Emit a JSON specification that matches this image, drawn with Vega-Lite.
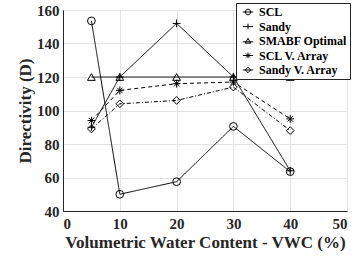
{
  "$schema": "https://vega.github.io/schema/vega-lite/v6.json",
  "autosize": "none",
  "padding": {"left": 63, "top": 10, "right": 10, "bottom": 47},
  "width": 284,
  "height": 201,
  "background": "white",
  "config": {
    "font": "Times New Roman",
    "view": {"stroke": "#262626", "strokeWidth": 1},
    "axis": {
      "labelFont": "Times New Roman", "labelFontWeight": "bold", "labelFontSize": 15, "labelColor": "#262626",
      "titleFont": "Times New Roman", "titleFontWeight": "bold", "titleFontSize": 17, "titleColor": "#262626",
      "domainColor": "#262626", "tickColor": "#262626", "tickSize": 0,
      "gridColor": "#e3e3e3", "gridWidth": 1
    }
  },
  "data": {"values": [
    {"vwc": 5, "d": 153.5, "series": "SCL"},
    {"vwc": 10, "d": 50, "series": "SCL"},
    {"vwc": 20, "d": 57.5, "series": "SCL"},
    {"vwc": 30, "d": 90.5, "series": "SCL"},
    {"vwc": 40, "d": 63.5, "series": "SCL"},
    {"vwc": 5, "d": 90, "series": "Sandy"},
    {"vwc": 10, "d": 120, "series": "Sandy"},
    {"vwc": 20, "d": 152, "series": "Sandy"},
    {"vwc": 30, "d": 120, "series": "Sandy"},
    {"vwc": 40, "d": 64, "series": "Sandy"},
    {"vwc": 5, "d": 120, "series": "SMABF Optimal"},
    {"vwc": 10, "d": 120, "series": "SMABF Optimal"},
    {"vwc": 20, "d": 120, "series": "SMABF Optimal"},
    {"vwc": 30, "d": 120, "series": "SMABF Optimal"},
    {"vwc": 40, "d": 120, "series": "SMABF Optimal"},
    {"vwc": 5, "d": 94, "series": "SCL V. Array"},
    {"vwc": 10, "d": 112, "series": "SCL V. Array"},
    {"vwc": 20, "d": 116, "series": "SCL V. Array"},
    {"vwc": 30, "d": 117, "series": "SCL V. Array"},
    {"vwc": 40, "d": 95, "series": "SCL V. Array"},
    {"vwc": 5, "d": 89, "series": "Sandy V. Array"},
    {"vwc": 10, "d": 104, "series": "Sandy V. Array"},
    {"vwc": 20, "d": 106, "series": "Sandy V. Array"},
    {"vwc": 30, "d": 114, "series": "Sandy V. Array"},
    {"vwc": 40, "d": 88, "series": "Sandy V. Array"}
  ]},
  "encoding": {
    "x": {"field": "vwc", "type": "quantitative", "scale": {"domain": [0, 50], "nice": false}, "axis": {"values": [0, 10, 20, 30, 40, 50], "title": "Volumetric Water Content - VWC (%)", "labelPadding": 5, "titlePadding": 3}},
    "y": {"field": "d", "type": "quantitative", "scale": {"domain": [40, 160], "nice": false}, "axis": {"values": [40, 60, 80, 100, 120, 140, 160], "title": "Directivity (D)", "labelPadding": 4, "titlePadding": 2}}
  },
  "layer": [
    {
      "mark": {"type": "point", "filled": false, "color": "black", "strokeWidth": 1, "size": 60, "opacity": 0},
      "encoding": {
        "shape": {"field": "series", "type": "nominal",
          "scale": {"domain": ["SCL", "Sandy", "SMABF Optimal", "SCL V. Array", "Sandy V. Array"],
            "range": ["M-1.9,0L1.9,0M-1,0A1,1 0 1,0 1,0A1,1 0 1,0 -1,0", "M-1.9,0L1.9,0M0,-1L0,1", "M-1.9,0.3L1.9,0.3M0,-1L1,0.8L-1,0.8Z", "M-1.9,0L1.9,0M0,-1L0,1M-0.7,-0.7L0.7,0.7M-0.7,0.7L0.7,-0.7", "M-1.9,0L1.9,0M0,-1L1,0L0,1L-1,0Z"]},
          "legend": {"title": null, "orient": "none", "legendX": 173, "legendY": -7,
            "strokeColor": "#262626", "fillColor": "white", "padding": 3,
            "symbolOpacity": 1, "symbolStrokeColor": "black", "symbolFillColor": "transparent", "symbolStrokeWidth": 1, "symbolSize": 30,
            "labelFont": "Times New Roman", "labelFontWeight": "bold", "labelFontSize": 12, "labelColor": "black",
            "rowPadding": 2.5, "labelOffset": 5, "symbolOffset": 3}
        }
      }
    },
    {
      "mark": {"type": "line", "color": "black", "strokeWidth": 1},
      "encoding": {
        "detail": {"field": "series"},
        "strokeDash": {"field": "series", "type": "nominal", "legend": null,
          "scale": {"domain": ["SCL", "Sandy", "SMABF Optimal", "SCL V. Array", "Sandy V. Array"], "range": [[1, 0], [1, 0], [1, 0], [4, 3], [4, 2, 1, 2]]}},
        "strokeWidth": {"field": "series", "type": "nominal", "legend": null,
          "scale": {"domain": ["SCL", "Sandy", "SMABF Optimal", "SCL V. Array", "Sandy V. Array"], "range": [1, 1, 1.6, 1, 1]}}
      }
    },
    {
      "mark": {"type": "point", "filled": false, "color": "black", "strokeWidth": 1, "size": 60, "opacity": 1},
      "encoding": {
        "shape": {"field": "series", "type": "nominal", "legend": null,
          "scale": {"domain": ["SCL", "Sandy", "SMABF Optimal", "SCL V. Array", "Sandy V. Array"],
            "range": ["circle", "M-1,0L1,0M0,-1L0,1", "triangle-up", "M-1,0L1,0M0,-1L0,1M-0.7,-0.7L0.7,0.7M-0.7,0.7L0.7,-0.7", "diamond"]}}
      }
    }
  ],
  "resolve": {"scale": {"shape": "independent"}}
}
